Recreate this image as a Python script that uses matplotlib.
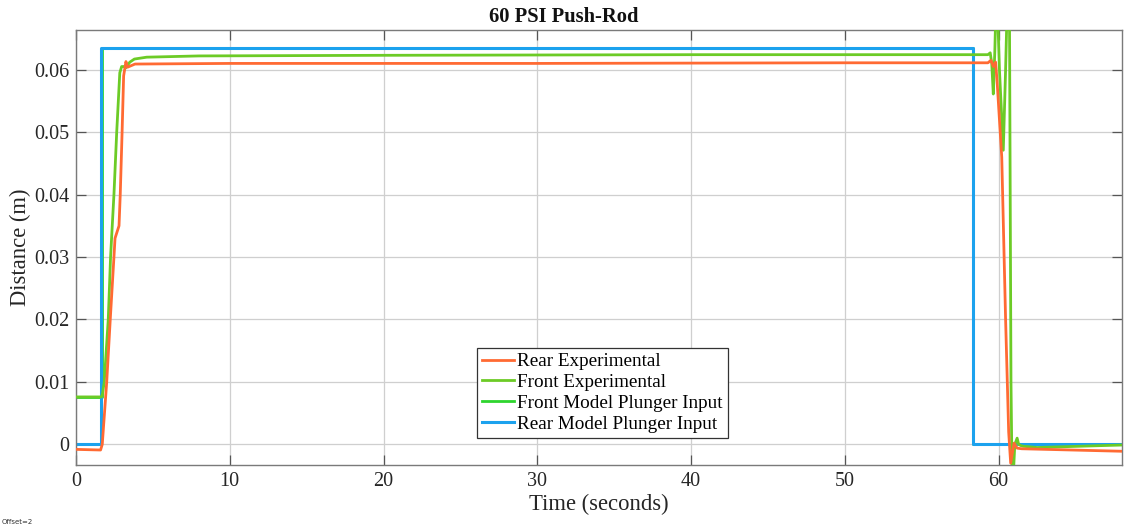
import matplotlib
matplotlib.use("Agg")
import matplotlib.pyplot as plt

# rear experimental (orange)
rear_exp_t = [0, 1.60, 1.71, 2.00, 2.23, 2.47, 2.54, 2.80, 2.88, 3.00, 3.10, 3.25, 3.36, 3.84,
              10, 30, 50, 58.0, 59.3, 59.5, 59.65, 59.8, 59.9, 60.2, 60.45, 60.65, 60.78,
              61.0, 61.2, 61.5, 68]
rear_exp_y = [-0.0008, -0.0009, 0.0, 0.010, 0.020, 0.030, 0.033, 0.035, 0.040, 0.050, 0.059,
              0.0613, 0.0604, 0.0609, 0.0610, 0.0610, 0.0611, 0.0611, 0.0611, 0.0615, 0.0605,
              0.0612, 0.058, 0.046, 0.020, 0.002, -0.003, 0.0002, -0.0006, -0.0007, -0.0011]

# front experimental (yellow-green)
front_exp_t = [0, 1.65, 1.72, 1.84, 2.10, 2.25, 2.47, 2.65, 2.85, 2.97, 3.12, 3.25, 3.50, 3.80,
               4.60, 8, 20, 40, 55, 59.3, 59.45, 59.55, 59.65, 59.75, 59.82, 59.92, 60.05,
               60.3, 60.45, 60.55, 60.7, 60.8, 60.87, 60.95, 61.05, 61.2, 61.3, 61.45, 61.6,
               62.5, 68]
front_exp_y = [0.0076, 0.0076, 0.0080, 0.010, 0.020, 0.030, 0.040, 0.050, 0.0595, 0.0605,
               0.0605, 0.0603, 0.0612, 0.0617, 0.0620, 0.0622, 0.0623, 0.0624, 0.0624, 0.0624,
               0.0627, 0.0610, 0.0561, 0.0630, 0.0700, 0.0700, 0.0600, 0.0471, 0.0600, 0.0700,
               0.0700, 0.0100, -0.0050, -0.0050, 0.0, 0.0010, 0.0, -0.0002, -0.0003, -0.0005,
               -0.0001]

# front model plunger input (bright green)
front_model_t = [0, 1.72, 1.72, 58.33, 58.33, 68]
front_model_y = [0.0076, 0.0076, 0.0635, 0.0635, 0.0, 0.0]

# rear model plunger input (blue)
rear_model_t = [0, 1.63, 1.63, 58.33, 58.33, 68]
rear_model_y = [0.0, 0.0, 0.0635, 0.0635, 0.0, 0.0]

x_ticks = [0, 10, 20, 30, 40, 50, 60]
y_ticks = [0, 0.01, 0.02, 0.03, 0.04, 0.05, 0.06]
y_tick_labels = ["0", "0.01", "0.02", "0.03", "0.04", "0.05", "0.06"]

plt.rcParams["font.family"] = ["Liberation Serif", "DejaVu Serif"]

fig = plt.figure(figsize=(11.27, 5.31), dpi=100)
ax = fig.add_axes([0.0674, 0.1243, 0.9279, 0.8186])

ax.plot(front_model_t, front_model_y, color="#2ED52E", lw=2.0, zorder=2)
l_rear, = ax.plot(rear_exp_t, rear_exp_y, color="#FF6A33", lw=2.0, zorder=4)
l_front, = ax.plot(front_exp_t, front_exp_y, color="#6CCB26", lw=2.0, zorder=3)
l_blue, = ax.plot(rear_model_t, rear_model_y, color="#1CA2EE", lw=2.2, zorder=2.5)
l_fm, = ax.plot([], [], color="#2ED52E", lw=2.0)

ax.set_xlim(0, 68)
ax.set_ylim(-0.0033, 0.0663)
ax.set_xticks(x_ticks)
ax.set_yticks(y_ticks)
ax.set_yticklabels(y_tick_labels)

ax.grid(True, color="#cfcfcf", lw=0.9)
ax.set_axisbelow(True)
for s in ax.spines.values():
    s.set_color("#7a7a7a")
    s.set_linewidth(1.0)
ax.tick_params(direction="in", length=7, width=0.9, color="#555555",
               top=True, right=True, labelsize=14.5, pad=5, labelcolor="#262626")

ax.set_xlabel("Time (seconds)", fontsize=16.3, color="#262626", labelpad=2)
ax.set_ylabel("Distance (m)", fontsize=16.3, color="#262626", labelpad=2)
fig.text(0.5005, 0.968, "60 PSI Push-Rod", ha="center", va="center",
         fontsize=14.8, fontweight="bold", color="#111111")

leg = ax.legend([l_rear, l_front, l_fm, l_blue],
                ["Rear Experimental", "Front Experimental",
                 "Front Model Plunger Input", "Rear Model Plunger Input"],
                loc="upper left", bbox_to_anchor=(0.3835, 0.269), borderaxespad=0,
                fontsize=13.8, fancybox=False, framealpha=1, edgecolor="#333333",
                handlelength=1.7, handletextpad=0.15, labelspacing=0.18,
                borderpad=0.25)
leg.get_frame().set_linewidth(0.9)
leg.set_zorder(10)

fig.text(0.001, 0.013, "Offset=2", fontsize=5, family="DejaVu Sans", color="#333333")

fig.savefig("out.png", dpi=100)
